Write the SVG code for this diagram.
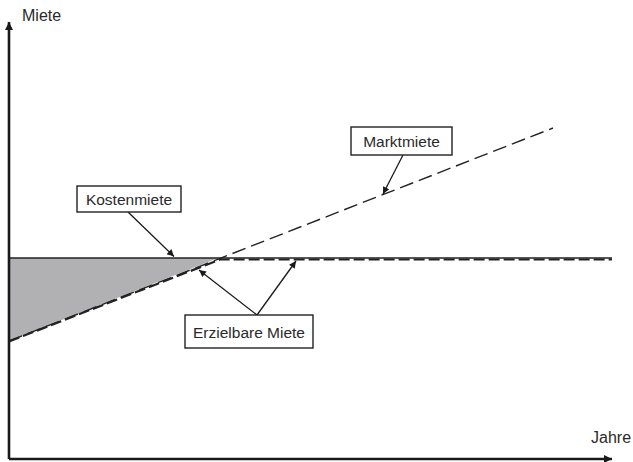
<svg xmlns="http://www.w3.org/2000/svg" width="633" height="462" viewBox="0 0 633 462">
<defs>
<marker id="ah" viewBox="0 0 10 10" refX="10" refY="5" markerWidth="8" markerHeight="7" markerUnits="userSpaceOnUse" orient="auto"><path d="M0,0 L10,5 L0,10 z" fill="#1a1a1a"/></marker>
<marker id="axh" viewBox="0 0 10 10" refX="10" refY="5" markerWidth="11" markerHeight="8" markerUnits="userSpaceOnUse" orient="auto"><path d="M0,0 L10,5 L0,10 z" fill="#1a1a1a"/></marker>
</defs>
<style>
text{font-family:"Liberation Sans",Arial,sans-serif;font-size:16px;fill:#2a2a2a}
.box{fill:#fff;stroke:#222;stroke-width:1.4}
.lbl{stroke:#1a1a1a;stroke-width:1.3;fill:none;marker-end:url(#ah)}
</style>
<rect width="633" height="462" fill="#fff"/>
<g id="area"><polygon points="9,258 218,258 9,341" fill="#b1b1b4"/></g>
<g id="connectors">
<line x1="9" y1="258" x2="612" y2="258" stroke="#222" stroke-width="1.3"/>
<line x1="9" y1="341" x2="553" y2="128" stroke="#222" stroke-width="1.4" stroke-dasharray="14,6"/>
<polyline points="9,341.5 220,259.5 612,259.5" fill="none" stroke="#222" stroke-width="2.2" stroke-dasharray="11,4"/>
<line x1="9" y1="459" x2="9" y2="22" stroke="#1a1a1a" stroke-width="2.6" marker-end="url(#axh)"/>
<line x1="9" y1="459" x2="612" y2="459" stroke="#1a1a1a" stroke-width="2.6" marker-end="url(#axh)"/>
<line class="lbl" x1="128" y1="212" x2="174" y2="256.5"/>
<line class="lbl" x1="403" y1="155" x2="383" y2="194"/>
<line class="lbl" x1="257" y1="315" x2="199" y2="270"/>
<line class="lbl" x1="257" y1="315" x2="296" y2="261"/>
</g>
<g id="axis-y-label"><text x="22" y="21">Miete</text></g>
<g id="axis-x-label"><text x="591" y="443">Jahre</text></g>
<g id="kostenmiete"><rect class="box" x="77" y="186" width="104" height="26"/><text x="129" y="205" text-anchor="middle" style="font-size:15.5px">Kostenmiete</text></g>
<g id="marktmiete"><rect class="box" x="351" y="127" width="101" height="28"/><text x="401.5" y="147" text-anchor="middle" style="font-size:15.5px">Marktmiete</text></g>
<g id="erzielbare"><rect class="box" x="185" y="315" width="128" height="33"/><text x="249" y="337.5" text-anchor="middle" style="font-size:15.5px">Erzielbare Miete</text></g>
</svg>
